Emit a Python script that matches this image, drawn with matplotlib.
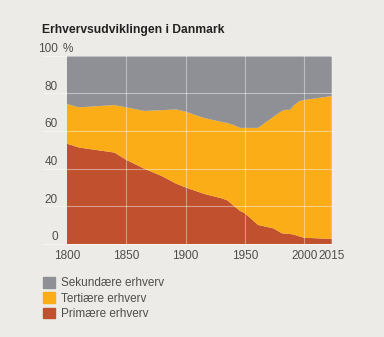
import numpy as np
import matplotlib
matplotlib.use("Agg")
import matplotlib.pyplot as plt
from matplotlib.patches import Patch
from matplotlib import font_manager

years = [1800, 1810, 1840, 1850, 1865, 1880, 1892, 1900, 1910, 1916, 1930, 1935,
         1941, 1946, 1950, 1961, 1974, 1981, 1984, 1988, 1991, 1996, 2000, 2015]
primaere = [53.2, 51.2, 48.5, 44.6, 40.0, 36.0, 32.0, 30.0, 27.8, 26.5, 24.3, 23.2,
            20.0, 17.5, 16.3, 10.1, 8.3, 5.7, 5.5, 5.3, 5.0, 4.0, 3.3, 2.7]
tertiaere = [21.1, 21.3, 25.2, 27.9, 30.6, 35.0, 39.4, 40.2, 40.2, 40.3, 40.5, 41.0,
             43.0, 44.1, 45.3, 51.5, 59.2, 64.8, 65.7, 65.9, 68.5, 71.8, 73.1, 75.8]
sekundaere = [25.7, 27.5, 26.3, 27.5, 29.4, 29.0, 28.6, 29.8, 32.0, 33.2, 35.2, 35.8,
              37.0, 38.4, 38.4, 38.4, 32.5, 29.5, 28.8, 28.8, 26.5, 24.2, 23.6, 21.5]

x_ticks = [1800, 1850, 1900, 1950, 2000, 2015]
y_ticks = [0, 20, 40, 60, 80, 100]
labels = ["Sekundære erhverv", "Tertiære erhverv", "Primære erhverv"]
title = "Erhvervsudviklingen i Danmark"

c_red = "#C1502E"
c_yellow = "#FBAD18"
c_gray = "#8F9095"
bg = "#EDEBE7"
txt = "#4E4E4E"

names = {f.name for f in font_manager.fontManager.ttflist}
body_font = "Liberation Sans Narrow" if "Liberation Sans Narrow" in names else "Liberation Sans"
plt.rcParams["font.family"] = [body_font, "DejaVu Sans"]

# the last stretch (2000-2015) is drawn wider in the original
stretch = 1.54


def fwd(x):
    x = np.asarray(x, dtype=float)
    return np.where(x <= 2000, x, 2000 + (x - 2000) * stretch)


def inv(x):
    x = np.asarray(x, dtype=float)
    return np.where(x <= 2000, x, 2000 + (x - 2000) / stretch)


fig = plt.figure(figsize=(3.84, 3.37), dpi=100, facecolor=bg)
ax = fig.add_axes([67 / 384, 1 - 244 / 337, (331.7 - 67) / 384, (244 - 55.5) / 337])
ax.set_facecolor(bg)
ax.set_xscale("function", functions=(fwd, inv))

ax.stackplot(years, primaere, tertiaere, sekundaere,
             colors=[c_red, c_yellow, c_gray], linewidth=0, zorder=1)
ax.set_xlim(1800, 2015)
ax.set_ylim(0, 100)

# grid lines over the areas
for xv in x_ticks[1:-1]:
    ax.axvline(xv, color="white", alpha=0.4, lw=0.8, zorder=2)
for yv in y_ticks:
    ax.plot([-24 / 264.7, 1], [yv, yv], transform=ax.get_yaxis_transform(),
            color="white", alpha=0.45, lw=0.8, zorder=2, clip_on=False)
    ax.annotate(str(yv), xy=(0, yv), xycoords=ax.get_yaxis_transform(),
                xytext=(-9 * 0.72, 0.5), textcoords="offset points",
                ha="right", va="bottom", fontsize=8.5, color=txt)
ax.annotate("%", xy=(0, 100), xycoords=ax.get_yaxis_transform(),
            xytext=(-4 * 0.72, 0.5), textcoords="offset points",
            ha="left", va="bottom", fontsize=8.5, color=txt)

ax.set_yticks([])
ax.set_xticks(x_ticks)
ax.set_xticklabels([str(v) for v in x_ticks], fontsize=8.5, color=txt)
ax.tick_params(axis="x", length=0, pad=4)
for s in ax.spines.values():
    s.set_visible(False)

fig.text(42 / 384, 1 - 30 / 337, title, fontsize=8.7, fontweight="bold",
         color="#222222", ha="left", va="center",
         family=["Liberation Sans", "DejaVu Sans"])

handles = [Patch(color=c_gray), Patch(color=c_yellow), Patch(color=c_red)]
fig.legend(handles, labels, loc="upper left", bbox_to_anchor=(43 / 384, 1 - 277 / 337),
           frameon=False, fontsize=8.5, handlelength=1.0, handleheight=1.0,
           handletextpad=0.5, labelspacing=0.25, borderpad=0, borderaxespad=0,
           labelcolor=txt)

fig.savefig("out.png", dpi=100, facecolor=bg)
